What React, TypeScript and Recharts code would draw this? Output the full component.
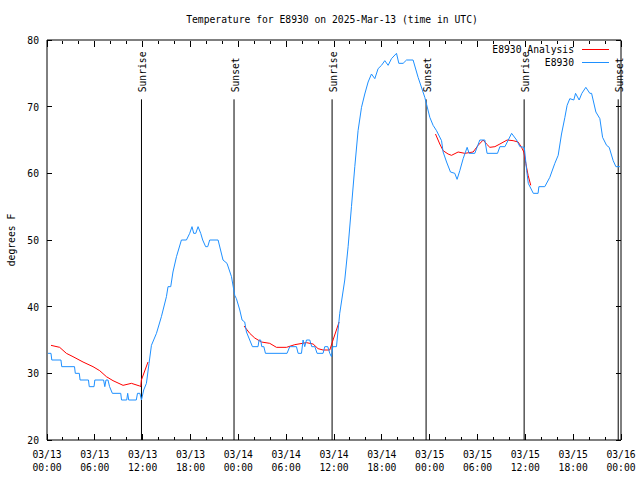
import React from 'react';
import { LineChart, Line, XAxis, YAxis, ReferenceLine, Legend } from 'recharts';

const FONT = '"DejaVu Sans Mono", "Liberation Mono", monospace';
const FS = 9.7;

// hours since 03/13 00:00 UTC, temperature in F
const obsHours = [
  0.13, 0.5, 0.6, 1.75, 1.85, 3.45, 3.55, 4.05, 4.15, 5.2, 5.3, 5.9, 6.0, 7.1, 7.25, 7.4, 7.65, 7.85, 8.2, 9.25,
  9.35, 10.0, 10.12, 10.25, 11.2, 11.35, 11.65, 11.85, 12.13, 12.47, 12.8, 13.1, 13.73, 14.35, 14.98, 15.18, 15.52, 15.8, 16.24, 16.86,
  17.49, 17.9, 18.19, 18.4, 18.66, 18.95, 19.28, 19.53, 19.9, 20.16, 20.41, 21.46, 22.08, 22.58, 23.14, 23.55, 23.76, 24.18, 24.47, 24.8,
  25.02, 25.43, 25.77, 26.47, 26.6, 26.8, 26.94, 27.2, 27.4, 30.11, 30.45, 31.29, 31.5, 31.92, 32.12, 32.33, 32.55, 32.96, 33.21, 33.6,
  33.88, 34.63, 34.84, 35.22, 35.47, 35.68, 35.85, 36.31, 36.72, 37.35, 37.77, 38.19, 38.61, 39.02, 39.45, 39.86, 40.28, 40.7, 41.12, 41.53,
  41.96, 42.37, 42.79, 43.21, 43.84, 44.13, 44.67, 45.1, 45.92, 46.55, 47.39, 48.02, 48.43, 48.86, 49.49, 49.69, 50.12, 50.61, 51.15, 51.44,
  51.78, 52.2, 52.7, 52.95, 53.66, 54.29, 54.92, 55.2, 56.51, 56.81, 57.44, 58.28, 58.9, 59.32, 59.87, 60.17, 60.37, 61.0, 61.6, 61.7,
  62.44, 63.07, 63.7, 64.12, 64.54, 64.96, 65.24, 65.58, 66.08, 66.3, 66.75, 67.09, 67.59, 68.09, 68.31, 68.85, 69.35, 69.69, 70.19, 70.52,
  71.02, 71.36, 71.86,
];
const obsTemps = [
  33, 33, 32, 32, 31, 31, 30, 30, 29, 29, 28, 28, 29, 29, 28, 29, 29, 28, 27, 27,
  26, 26, 27, 26, 26, 27, 27, 26, 27.5, 28.5, 31.5, 34.2, 36, 38.5, 41.5, 43, 43, 45.2, 47.5, 50,
  50, 51, 52, 51, 51, 52, 51, 50, 49, 49, 50, 50, 47, 46.5, 44.5, 41.7, 41.2, 39.5, 38, 37.7,
  36.2, 35, 34, 34, 35, 35, 34, 34, 33, 33, 34, 34, 33, 33, 35, 34, 35, 35, 34, 34,
  33, 33, 34, 34, 33, 32.5, 34, 34, 39, 44, 49, 55, 61, 66.4, 69.9, 71.9, 73.7, 74.9, 74.2, 75.7,
  76.2, 76.9, 76.2, 77.2, 78, 76.5, 76.5, 77, 77, 74.4, 71.4, 68.4, 67.2, 66.4, 64.9, 63.2, 61.7, 60.2, 60, 59.1,
  60.4, 62.2, 63.9, 63, 63, 65, 65, 63, 63, 64, 64, 66, 65, 64, 63.9, 60.4, 58.5, 57, 57, 58,
  58, 59.4, 61.5, 62.7, 65.9, 68.4, 70.2, 71.2, 71, 72, 71, 72, 72.9, 72, 72, 69.2, 68.2, 65.4, 64.2, 63.9,
  61.9, 61, 61,
];

// analysis, null breaks the line between runs
const anaHours = [
  0.5, 1.59, 2.43, 3.26, 4.52, 5.77, 6.61, 7.45, 8.28, 9.54, 10.59, 11.63, 11.76, 11.84, 12.67,
  18,
  24.72, 25.43, 26.06, 26.9, 27.94, 28.78, 30.04, 31.08, 32.55, 33.38, 34.0, 34.63, 35.47, 35.88, 36.64,
  42,
  48.73, 49.27, 49.69, 50.31, 50.74, 51.57, 52.41, 53.45, 54.08, 54.71, 55.13, 55.55, 56.18, 56.81, 57.72, 58.47,
  59.1, 59.52, 59.81, 60.06, 60.35, 60.68,
];
const anaTemps = [
  34.2, 33.9, 33, 32.5, 31.7, 31, 30.4, 29.5, 28.9, 28.2, 28.5, 28.1, 28, 29, 31.7,
  null,
  37.1, 36, 35.3, 34.7, 34.5, 33.9, 33.9, 34.3, 34.6, 34.4, 33.7, 33.5, 33.5, 35, 37.7,
  null,
  65.9, 64.4, 63.4, 62.9, 62.7, 63.2, 63, 63.2, 64.2, 65, 64.4, 63.9, 64, 64.4, 65, 64.9,
  64.7, 63.9, 63.2, 61.5, 59.7, 58.2,
];

const sunHours = [11.85, 23.46, 35.76, 47.55, 59.85, 71.65];
const sunLabels = ['Sunrise', 'Sunset', 'Sunrise', 'Sunset', 'Sunrise', 'Sunset'];
const sunLineTop = 71.1;

const xTicks = [0, 2, 4, 6, 8, 10, 12, 14, 16, 18, 20, 22, 24, 26, 28, 30, 32, 34, 36, 38, 40, 42, 44, 46, 48, 50, 52, 54, 56, 58, 60, 62, 64, 66, 68, 70, 72];
const dayLabels = ['03/13', '03/14', '03/15', '03/16'];
const timeLabels = ['00:00', '06:00', '12:00', '18:00'];
const yTicks = [20, 30, 40, 50, 60, 70, 80];

const obsData = obsHours.map((h, i) => ({ h, t: obsTemps[i] }));
const anaData = anaHours.map((h, i) => ({ h, t: anaTemps[i] }));

const BottomTick = ({ x, y, payload }: any) => {
  const v = payload.value;
  const major = v % 6 === 0;
  return (
    <g>
      <line x1={x} y1={y} x2={x} y2={y - (major ? 6 : 3)} stroke="#000" shapeRendering="crispEdges" />
      {major && (
        <>
          <text x={x} y={y + 17.5} textAnchor="middle" fontFamily={FONT} fontSize={FS} fill="#000">
            {dayLabels[Math.floor(v / 24)]}
          </text>
          <text x={x} y={y + 31} textAnchor="middle" fontFamily={FONT} fontSize={FS} fill="#000">
            {timeLabels[(v % 24) / 6]}
          </text>
        </>
      )}
    </g>
  );
};

// top axis sits 1px above the plot, so ticks start at y + 1
const TopTick = ({ x, y, payload }: any) => {
  const major = payload.value % 6 === 0;
  return <line x1={x} y1={y + 1} x2={x} y2={y + 1 + (major ? 6 : 3)} stroke="#000" shapeRendering="crispEdges" />;
};

const LeftTick = ({ x, y, payload }: any) => (
  <g>
    <line x1={x} y1={y} x2={x + 5} y2={y} stroke="#000" shapeRendering="crispEdges" />
    <text x={x - 8} y={y + 4} textAnchor="end" fontFamily={FONT} fontSize={FS} fill="#000">
      {payload.value}
    </text>
  </g>
);

const RightTick = ({ x, y }: any) => (
  <line x1={x} y1={y} x2={x - 5} y2={y} stroke="#000" shapeRendering="crispEdges" />
);

const SunLabel = ({ viewBox, text }: any) => {
  if (!viewBox) return null;
  const x = viewBox.x + 1;
  const y = viewBox.y - 7;
  return (
    <text
      x={x}
      y={y}
      transform={`rotate(-90, ${x}, ${y})`}
      textAnchor="start"
      dominantBaseline="central"
      fontFamily={FONT}
      fontSize={FS}
      fill="#000"
    >
      {text}
    </text>
  );
};

const legendItems = [
  { name: 'E8930 Analysis', color: '#ff0000' },
  { name: 'E8930', color: '#1e90ff' },
];

const LegendBox = () => (
  <div style={{ fontFamily: FONT, fontSize: FS, color: '#000' }}>
    {legendItems.map((it) => (
      <div
        key={it.name}
        style={{ display: 'flex', justifyContent: 'flex-end', alignItems: 'center', height: 13, paddingRight: 1 }}
      >
        <span>{it.name}</span>
        <span style={{ display: 'inline-block', width: 27, height: 1, background: it.color, marginLeft: 8 }} />
      </div>
    ))}
  </div>
);

export default function App() {
  return (
    <div style={{ position: 'absolute', left: 0, top: 0, width: 640, height: 480, background: '#fff' }}>
      <LineChart width={640} height={480} margin={{ top: 39, right: 18, bottom: 0, left: 0 }}>
        <XAxis
          dataKey="h"
          type="number"
          domain={[0, 72]}
          ticks={xTicks}
          interval={0}
          height={40}
          tickSize={0}
          tickMargin={0}
          tick={<BottomTick />}
          stroke="#000"
          allowDataOverflow
        />
        <XAxis
          xAxisId="top"
          orientation="top"
          dataKey="h"
          type="number"
          domain={[0, 72]}
          ticks={xTicks}
          interval={0}
          height={1}
          tickSize={0}
          tickMargin={0}
          tick={<TopTick />}
          stroke="#000"
          allowDataOverflow
        />
        <YAxis
          type="number"
          domain={[20, 80]}
          ticks={yTicks}
          interval={0}
          width={47}
          tickSize={0}
          tickMargin={0}
          tick={<LeftTick />}
          stroke="#000"
          allowDataOverflow
          label={(p: any) => (
            <text
              x={11}
              y={240}
              transform="rotate(-90, 11, 240)"
              textAnchor="middle"
              dominantBaseline="central"
              fontFamily={FONT}
              fontSize={FS}
              fill="#000"
            >
              degrees F
            </text>
          )}
        />
        <YAxis
          yAxisId="right"
          orientation="right"
          type="number"
          domain={[20, 80]}
          ticks={yTicks}
          interval={0}
          width={1}
          tickSize={0}
          tickMargin={0}
          tick={<RightTick />}
          stroke="#000"
          allowDataOverflow
        />
        {sunHours.map((h, i) => (
          <ReferenceLine
            key={i}
            segment={[{ x: h, y: 20 }, { x: h, y: sunLineTop }]}
            stroke="#000"
            strokeWidth={1}
            label={(p: any) => <SunLabel {...p} text={sunLabels[i]} />}
          />
        ))}
        <Line
          data={anaData}
          dataKey="t"
          name="E8930 Analysis"
          stroke="#ff0000"
          strokeWidth={1}
          dot={false}
          activeDot={false}
          type="linear"
          isAnimationActive={false}
        />
        <Line
          data={obsData}
          dataKey="t"
          name="E8930"
          stroke="#1e90ff"
          strokeWidth={1}
          dot={false}
          activeDot={false}
          type="linear"
          isAnimationActive={false}
        />
        <Legend
          layout="horizontal"
          verticalAlign="middle"
          align="center"
          wrapperStyle={{ position: 'absolute', top: 43, left: 440, width: 170, height: 26 }}
          content={() => <LegendBox />}
        />
      </LineChart>
      <div
        style={{
          position: 'absolute',
          top: 14,
          left: 0,
          width: 664,
          textAlign: 'center',
          fontFamily: FONT,
          fontSize: FS,
          lineHeight: '12px',
          color: '#000',
        }}
      >
        Temperature for E8930 on 2025-Mar-13 (time in UTC)
      </div>
    </div>
  );
}
